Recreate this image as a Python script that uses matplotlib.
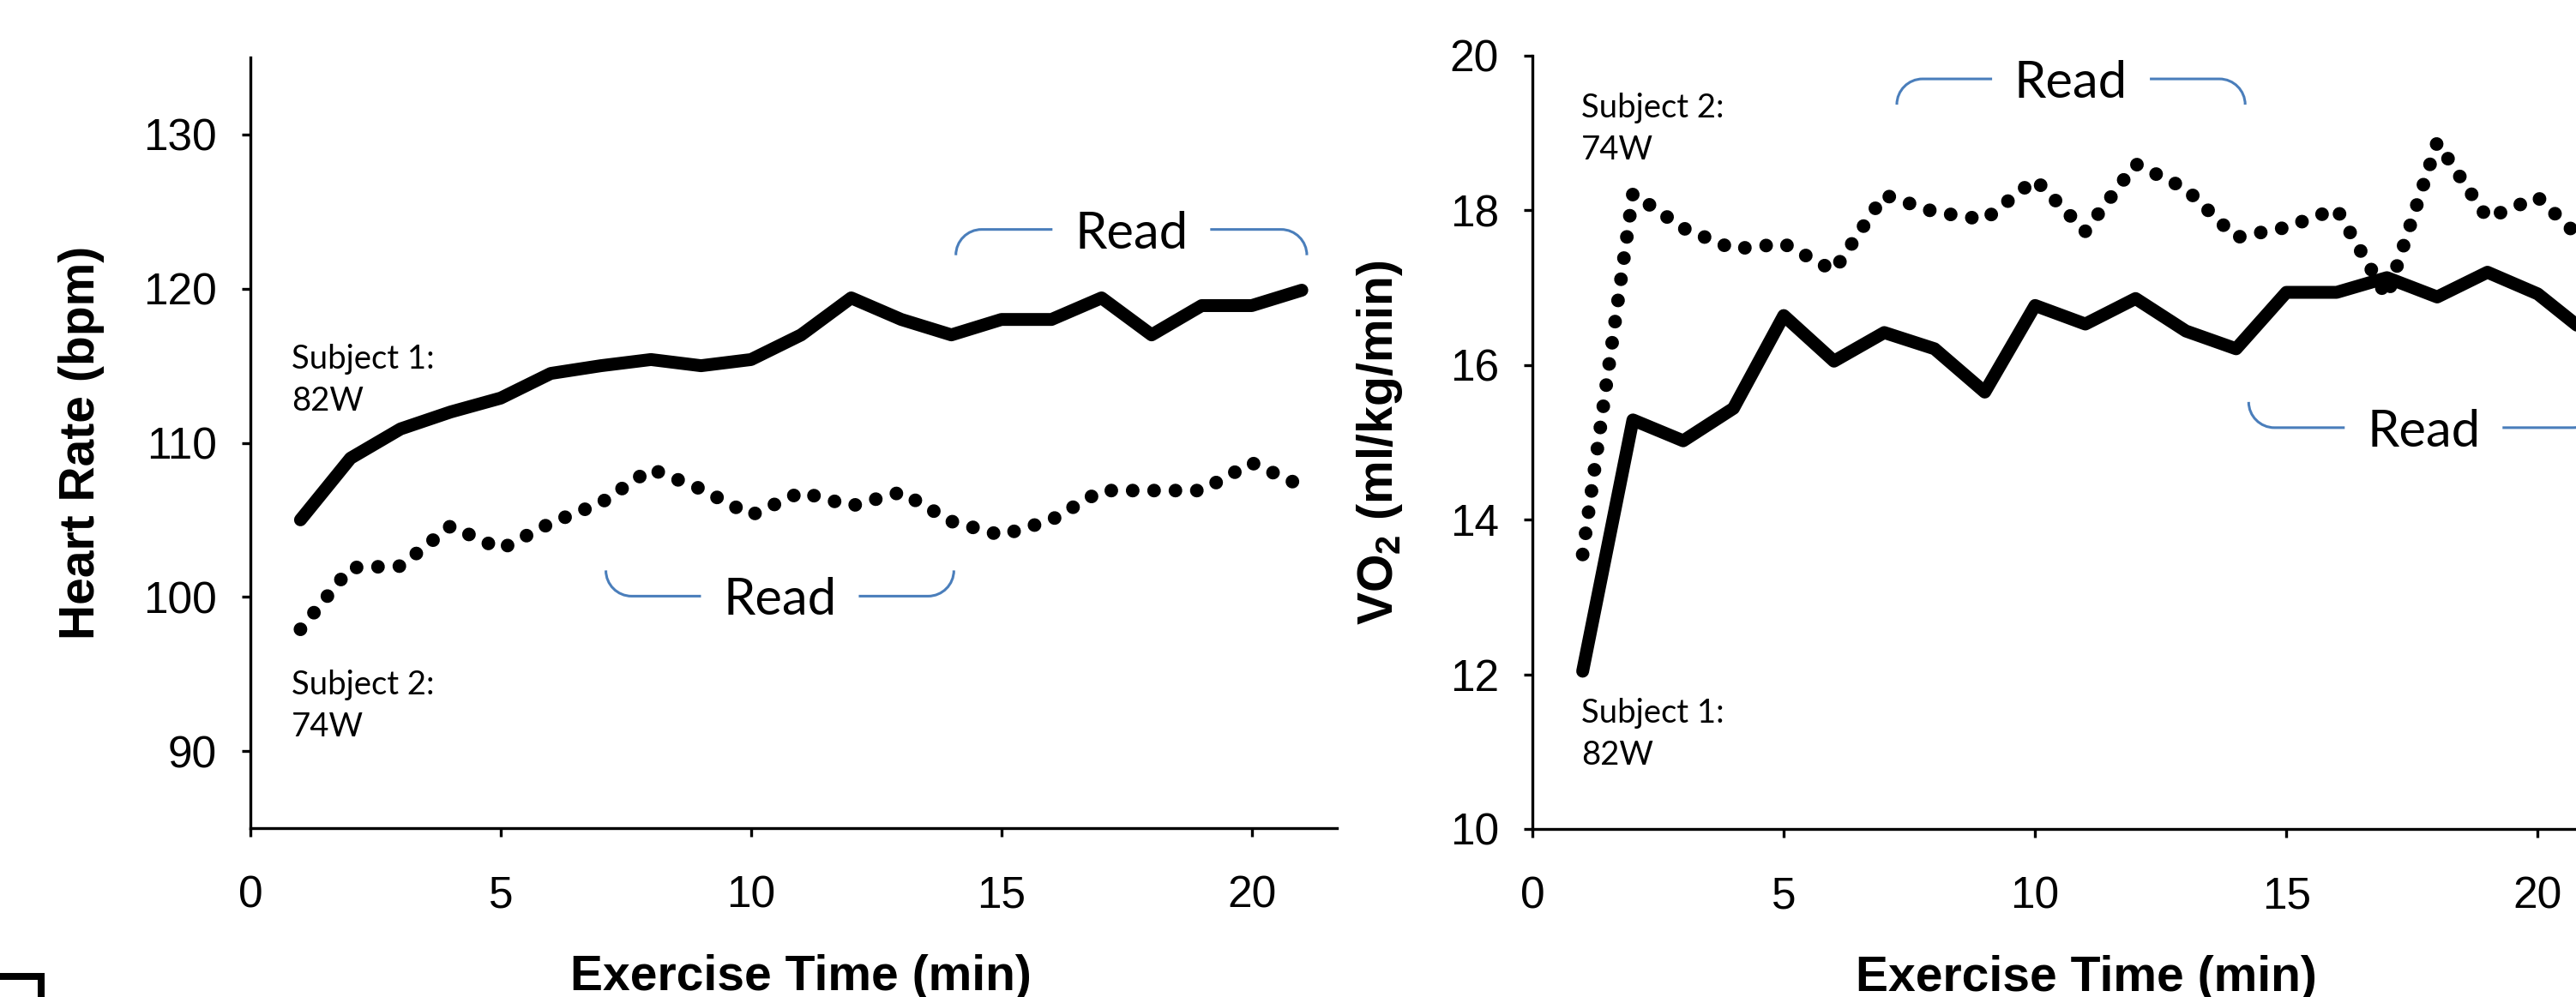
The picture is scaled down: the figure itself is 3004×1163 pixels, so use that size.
#!/usr/bin/env python3
"""
Heart rate and VO2 against exercise time for two subjects,
with the "Read" windows marked by blue brackets.
Saves out.png.
"""

import matplotlib

matplotlib.use("Agg")

import matplotlib.pyplot as plt
from matplotlib.lines import Line2D
from matplotlib.patches import PathPatch
from matplotlib.path import Path
from matplotlib.transforms import IdentityTransform

# ---- data ------------------------------------------------------------------
minutes = list(range(1, 22))

hr_subject1 = [105.0, 109.0, 110.9, 112.0, 112.9, 114.5, 115.0, 115.4, 115.0, 115.4,
               117.0, 119.4, 118.0, 117.0, 118.0, 118.0, 119.4, 117.0, 118.9, 118.9,
               119.9]
hr_subject2 = [97.9, 101.9, 102.0, 104.6, 103.1, 104.8, 106.1, 108.3, 107.0, 105.3,
               106.8, 105.9, 106.8, 104.9, 104.0, 105.0, 106.9, 106.9, 106.9, 108.7,
               107.2]

vo2_subject1 = [12.04, 15.29, 15.02, 15.44, 16.64, 16.05, 16.42, 16.21, 15.65, 16.77,
                16.53, 16.86, 16.44, 16.21, 16.94, 16.94, 17.13, 16.88, 17.20, 16.92,
                16.40]
vo2_subject2 = [13.55, 18.22, 17.77, 17.50, 17.57, 17.22, 18.20, 17.98, 17.88, 18.40,
                17.73, 18.60, 18.28, 17.65, 17.78, 18.02, 16.88, 18.88, 17.90, 18.17,
                17.55]

x_ticks = [0, 5, 10, 15, 20]
hr_ticks = [90, 100, 110, 120, 130]
vo2_ticks = [10, 12, 14, 16, 18, 20]

# ---- layout ------------------------------------------------------------------
W, H = 3004, 1163
DPI = 100
BLUE = "#4A7EBB"
TICK_FONT = "Liberation Sans"
NOTE_FONT = "Lato"

plt.rcParams["font.family"] = TICK_FONT
plt.rcParams["mathtext.fontset"] = "custom"
plt.rcParams["mathtext.rm"] = "Liberation Sans"
plt.rcParams["mathtext.bf"] = "Liberation Sans:bold"


def style_axes(ax, yticks):
    for side in ("top", "right"):
        ax.spines[side].set_visible(False)
    for side in ("left", "bottom"):
        ax.spines[side].set_linewidth(2.4)
    ax.set_xticks(x_ticks)
    ax.set_yticks(yticks)
    ax.tick_params(axis="both", direction="out", length=7.2, width=2.4,
                   labelsize=37, colors="black")
    ax.tick_params(axis="y", pad=21)
    ax.tick_params(axis="x", pad=32)


def plot_subjects(ax, s1, s2):
    ax.plot(minutes, s1, color="black", linewidth=10.8,
            solid_capstyle="round", solid_joinstyle="round", zorder=3)
    ax.plot(minutes, s2, color="black", linewidth=11.5,
            linestyle=(0, (0.001, 1.56)), dash_capstyle="round", zorder=3)


def draw_read_bracket(ax, x0, x1, y, hook, gap=92, r=30):
    """Blue bracket with a gap in the middle holding the word 'Read'."""
    (px0, py), (px1, _) = ax.transData.transform([(x0, y), (x1, y)])
    xc = 0.5 * (px0 + px1)
    s = -1 if hook == "down" else 1
    k = 0.552 * r
    left = Path(
        [(px0, py + s * r), (px0, py + s * (r - k)), (px0 + r - k, py),
         (px0 + r, py), (xc - gap, py)],
        [Path.MOVETO, Path.CURVE4, Path.CURVE4, Path.CURVE4, Path.LINETO],
    )
    right = Path(
        [(xc + gap, py), (px1 - r, py), (px1 - r + k, py),
         (px1, py + s * (r - k)), (px1, py + s * r)],
        [Path.MOVETO, Path.LINETO, Path.CURVE4, Path.CURVE4, Path.CURVE4],
    )
    for p in (left, right):
        ax.add_artist(PathPatch(p, transform=IdentityTransform(), fill=False,
                                edgecolor=BLUE, linewidth=2.2, clip_on=False))
    ax.text(0.5 * (x0 + x1), y, "Read", ha="center", va="center_baseline",
            fontsize=43, family=NOTE_FONT, color="black")


def subject_note(ax, x, y, text):
    ax.text(x, y, text, ha="left", va="top", fontsize=27.5, family=NOTE_FONT,
            linespacing=1.45, color="black")


fig = plt.figure(figsize=(W / DPI, H / DPI), dpi=DPI)

# ---- heart rate panel ----------------------------------------------------------
ax_hr = fig.add_axes([292 / W, 197 / H, 1267 / W, 899 / H])
plot_subjects(ax_hr, hr_subject1, hr_subject2)
ax_hr.set_xlim(0, 21.7)
ax_hr.set_ylim(85, 135)
style_axes(ax_hr, hr_ticks)
ax_hr.set_ylabel("Heart Rate (bpm)", fontsize=41, fontweight="bold")
ax_hr.set_xlabel("Exercise Time (min)", fontsize=41, fontweight="bold")
ax_hr.yaxis.set_label_coords(-0.134, 0.5)
ax_hr.xaxis.set_label_coords(0.507, -0.164)
subject_note(ax_hr, 0.82, 116.4, "Subject 1:\n82W")
subject_note(ax_hr, 0.82, 95.3, "Subject 2:\n74W")
draw_read_bracket(ax_hr, 14.09, 21.10, 123.84, "down")
draw_read_bracket(ax_hr, 7.10, 14.05, 100.05, "up")

# ---- VO2 panel -------------------------------------------------------------------
ax_vo2 = fig.add_axes([1787 / W, 196 / H, 1272 / W, 902 / H])
plot_subjects(ax_vo2, vo2_subject1, vo2_subject2)
ax_vo2.set_xlim(0, 21.7)
ax_vo2.set_ylim(10, 20)
style_axes(ax_vo2, vo2_ticks)
ax_vo2.set_ylabel(r"VO$_{\mathbf{2}}$ (ml/kg/min)", fontsize=41, fontweight="bold")
ax_vo2.set_xlabel("Exercise Time (min)", fontsize=41, fontweight="bold")
ax_vo2.yaxis.set_label_coords(-0.117, 0.5)
ax_vo2.xaxis.set_label_coords(0.508, -0.163)
subject_note(ax_vo2, 0.97, 19.52, "Subject 2:\n74W")
subject_note(ax_vo2, 0.97, 11.70, "Subject 1:\n82W")
draw_read_bracket(ax_vo2, 7.25, 14.18, 19.70, "down")
draw_read_bracket(ax_vo2, 14.25, 21.21, 15.19, "up")

# small corner mark at the bottom left edge
fig.add_artist(Line2D([0, 48 / W, 48 / W], [24 / H, 24 / H, 0],
                      transform=fig.transFigure, color="black", linewidth=5.8,
                      solid_joinstyle="miter"))

fig.savefig("out.png", dpi=DPI)
plt.close(fig)
